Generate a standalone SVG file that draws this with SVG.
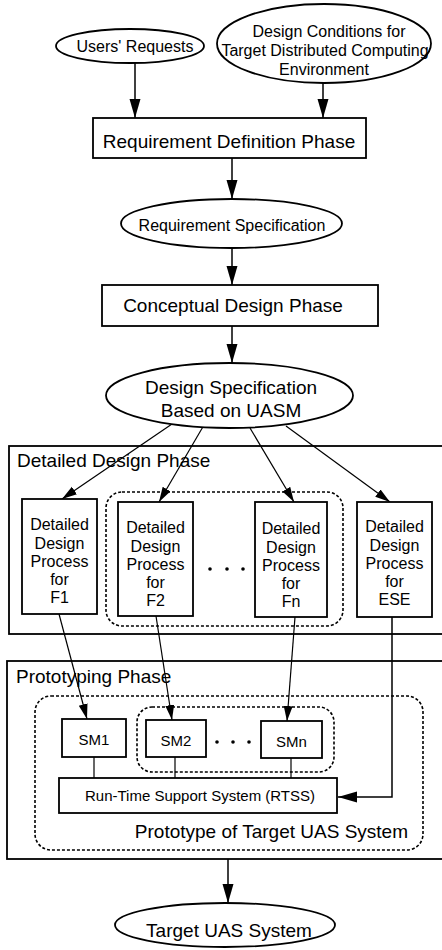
<svg xmlns="http://www.w3.org/2000/svg" width="442" height="950" viewBox="0 0 442 950">
  <style>
    text { font-family: "Liberation Sans", Arial, sans-serif; fill: #000; }
    .box { fill: #fff; stroke: #000; stroke-width: 1.8; }
    .frame { fill: none; stroke: #000; stroke-width: 1.8; }
    .oval { fill: #fff; stroke: #000; stroke-width: 1.8; }
    .dash { fill: none; stroke: #000; stroke-width: 1.6; stroke-dasharray: 3 2; }
    .link { fill: none; stroke: #000; stroke-width: 1.5; }
    .thin { fill: none; stroke: #000; stroke-width: 1.2; }
    .big { font-size: 19px; }
    .mid { font-size: 16px; }
    .sm { font-size: 15px; }
  </style>
  <defs>
    <marker id="head" markerUnits="userSpaceOnUse" markerWidth="20" markerHeight="12" refX="19" refY="5.5" orient="auto">
      <path d="M0,0 L19,5.5 L0,11 Z" fill="#000"/>
    </marker>
    <marker id="headS" markerUnits="userSpaceOnUse" markerWidth="16" markerHeight="10" refX="15" refY="4.5" orient="auto">
      <path d="M0,0 L15,4.5 L0,9 Z" fill="#000"/>
    </marker>
  </defs>

  <!-- phase frames -->
  <g id="detailed-design-phase">
    <rect class="frame" x="9" y="446" width="450" height="188"/>
    <text class="big" x="17" y="467">Detailed Design Phase</text>
  </g>
  <g id="prototyping-phase">
    <rect class="frame" x="7" y="661" width="452" height="198"/>
    <text class="big" x="16" y="683">Prototyping Phase</text>
  </g>

  <!-- connectors -->
  <g id="connectors">
    <line class="link" x1="135" y1="63" x2="135" y2="118" marker-end="url(#head)"/>
    <line class="link" x1="323" y1="83" x2="323" y2="118" marker-end="url(#head)"/>
    <line class="link" x1="232" y1="158" x2="232" y2="199" marker-end="url(#head)"/>
    <line class="link" x1="232" y1="248" x2="232" y2="285" marker-end="url(#head)"/>
    <line class="link" x1="232" y1="326" x2="232" y2="363" marker-end="url(#head)"/>
    <line class="thin" x1="172" y1="424" x2="62" y2="499" marker-end="url(#headS)"/>
    <line class="thin" x1="204" y1="425" x2="159" y2="502" marker-end="url(#headS)"/>
    <line class="thin" x1="250" y1="428" x2="294" y2="502" marker-end="url(#headS)"/>
    <line class="thin" x1="286" y1="426" x2="390" y2="502" marker-end="url(#headS)"/>
    <line class="thin" x1="59" y1="614" x2="87" y2="719" marker-end="url(#headS)"/>
    <line class="thin" x1="156" y1="616" x2="172" y2="720" marker-end="url(#headS)"/>
    <line class="thin" x1="295" y1="617" x2="287" y2="721" marker-end="url(#headS)"/>
    <polyline class="link" points="392,617 392,797 338,797" marker-end="url(#head)"/>
    <line class="thin" x1="94" y1="757" x2="94" y2="778"/>
    <line class="thin" x1="175" y1="757" x2="175" y2="778"/>
    <line class="thin" x1="291" y1="758" x2="291" y2="778"/>
    <line class="link" x1="228" y1="859" x2="228" y2="903" marker-end="url(#head)"/>
  </g>

  <!-- inputs -->
  <g id="users-requests">
    <ellipse class="oval" cx="130" cy="46" rx="74" ry="17"/>
    <text class="mid" x="135" y="52" text-anchor="middle">Users' Requests</text>
  </g>
  <g id="design-conditions">
    <ellipse class="oval" cx="324" cy="43.5" rx="107" ry="39.5"/>
    <text class="mid" x="329" y="37" text-anchor="middle">Design Conditions for</text>
    <text class="mid" x="325" y="56" text-anchor="middle">Target Distributed Computing</text>
    <text class="mid" x="324" y="75" text-anchor="middle">Environment</text>
  </g>

  <!-- upstream phases -->
  <g id="requirement-definition">
    <rect class="box" x="93" y="118" width="273" height="40"/>
    <text class="big" x="229" y="148" text-anchor="middle">Requirement Definition Phase</text>
  </g>
  <g id="requirement-specification">
    <ellipse class="oval" cx="231.5" cy="223.5" rx="110.5" ry="24.5"/>
    <text class="mid" x="232" y="231" text-anchor="middle">Requirement Specification</text>
  </g>
  <g id="conceptual-design">
    <rect class="box" x="102" y="285" width="276" height="41"/>
    <text class="big" x="233" y="312" text-anchor="middle">Conceptual Design Phase</text>
  </g>
  <g id="design-specification">
    <ellipse class="oval" cx="229.5" cy="395.5" rx="123.5" ry="32.5"/>
    <text class="big" x="231" y="394" text-anchor="middle">Design Specification</text>
    <text class="big" x="231" y="417" text-anchor="middle">Based on UASM</text>
  </g>

  <!-- detailed design processes -->
  <g id="function-group">
    <rect class="dash" x="106" y="492" width="237" height="134" rx="16"/>
    <circle cx="210" cy="569" r="1.8"/>
    <circle cx="227" cy="569" r="1.8"/>
    <circle cx="243" cy="569" r="1.8"/>
  </g>
  <g id="ddp-f1">
    <rect class="box" x="22" y="499" width="75" height="115"/>
    <text class="mid" text-anchor="middle"><tspan x="59.5" y="530">Detailed</tspan><tspan x="59.5" y="548.5">Design</tspan><tspan x="59.5" y="567">Process</tspan><tspan x="59.5" y="585">for</tspan><tspan x="59.5" y="603">F1</tspan></text>
  </g>
  <g id="ddp-f2">
    <rect class="box" x="118" y="502" width="75" height="114"/>
    <text class="mid" text-anchor="middle"><tspan x="155.5" y="533">Detailed</tspan><tspan x="155.5" y="551.5">Design</tspan><tspan x="155.5" y="570">Process</tspan><tspan x="155.5" y="588">for</tspan><tspan x="155.5" y="606">F2</tspan></text>
  </g>
  <g id="ddp-fn">
    <rect class="box" x="255" y="502" width="72" height="115"/>
    <text class="mid" text-anchor="middle"><tspan x="291" y="534">Detailed</tspan><tspan x="291" y="552.5">Design</tspan><tspan x="291" y="571">Process</tspan><tspan x="291" y="589">for</tspan><tspan x="291" y="607">Fn</tspan></text>
  </g>
  <g id="ddp-ese">
    <rect class="box" x="357" y="502" width="75" height="115"/>
    <text class="mid" text-anchor="middle"><tspan x="394.5" y="532">Detailed</tspan><tspan x="394.5" y="550.5">Design</tspan><tspan x="394.5" y="569">Process</tspan><tspan x="394.5" y="587">for</tspan><tspan x="394.5" y="605">ESE</tspan></text>
  </g>

  <!-- prototype -->
  <g id="prototype">
    <rect class="dash" x="35" y="696" width="388" height="154" rx="16"/>
    <text class="big" x="408" y="838" text-anchor="end">Prototype of Target UAS System</text>
  </g>
  <g id="sm-group">
    <rect class="dash" x="137" y="707" width="197" height="65" rx="15"/>
    <circle cx="217" cy="742" r="1.8"/>
    <circle cx="233" cy="742" r="1.8"/>
    <circle cx="249" cy="742" r="1.8"/>
  </g>
  <g id="sm1">
    <rect class="box" x="62" y="719" width="64" height="38"/>
    <text class="sm" x="94" y="745" text-anchor="middle">SM1</text>
  </g>
  <g id="sm2">
    <rect class="box" x="146" y="720" width="60" height="37"/>
    <text class="sm" x="176" y="746" text-anchor="middle">SM2</text>
  </g>
  <g id="smn">
    <rect class="box" x="261" y="721" width="61" height="37"/>
    <text class="sm" x="291.5" y="747" text-anchor="middle">SMn</text>
  </g>
  <g id="rtss">
    <rect class="box" x="59" y="778" width="278" height="35"/>
    <text class="sm" x="200" y="801" text-anchor="middle">Run-Time Support System (RTSS)</text>
  </g>

  <!-- result -->
  <g id="target-uas-system">
    <ellipse class="oval" cx="225" cy="925" rx="110" ry="22"/>
    <text class="big" x="229" y="937" text-anchor="middle">Target UAS System</text>
  </g>
</svg>
